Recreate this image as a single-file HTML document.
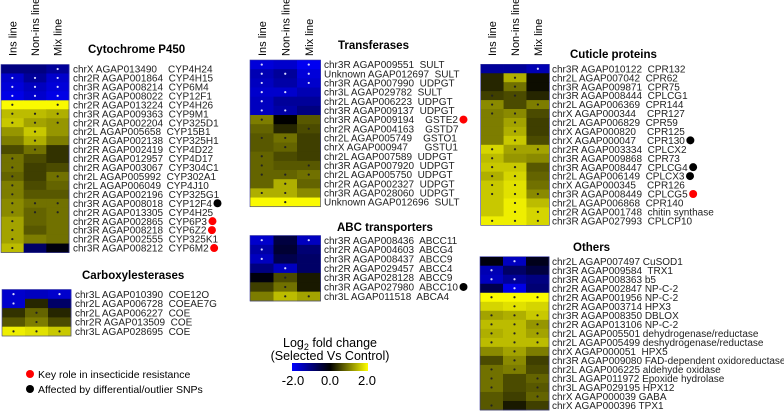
<!DOCTYPE html>
<html><head><meta charset="utf-8"><style>
html,body{margin:0;padding:0;background:#fff;}
svg{display:block;font-family:"Liberation Sans",Arial,sans-serif;}
text{white-space:pre;}
</style></head><body>
<svg id="chart" width="784" height="411" viewBox="0 0 784 411">
<defs><linearGradient id="cbar" x1="0" x2="1"><stop offset="0" stop-color="#0000ff"/><stop offset="0.5" stop-color="#000"/><stop offset="1" stop-color="#ffff00"/></linearGradient></defs>
<g id="legend">
<text x="330" y="347" font-size="12.5" text-anchor="middle">Log<tspan font-size="9" dy="3">2</tspan><tspan dy="-3"> fold change</tspan></text>
<text x="330" y="360" font-size="12.5" text-anchor="middle">(Selected Vs Control)</text>
<rect x="292" y="363" width="76" height="8" fill="url(#cbar)"/>
<text x="293" y="385" font-size="13" text-anchor="middle">-2.0</text>
<text x="330" y="385" font-size="13" text-anchor="middle">0.0</text>
<text x="367" y="385" font-size="13" text-anchor="middle">2.0</text>
<circle cx="30" cy="374" r="4" fill="#f00"/>
<text x="38" y="378" font-size="10.5">Key role in insecticide resistance</text>
<circle cx="30" cy="389" r="4" fill="#000"/>
<text x="38" y="393" font-size="10.5">Affected by differential/outlier SNPs</text>
</g>
</svg>
<script>
const columns = ["Ins line","Non-ins line","Mix line"];
const cypLabels = ["chrX AGAP013490    CYP4H24","chr2R AGAP001864  CYP4H15","chr3R AGAP008214  CYP6M4","chr3R AGAP008022  CYP12F1","chr2R AGAP013224  CYP4H26","chr3R AGAP009363  CYP9M1","chr2R AGAP002204  CYP325D1","chr2L AGAP005658  CYP15B1","chr2R AGAP002138  CYP325H1","chr2R AGAP002419  CYP4D22","chr2R AGAP012957  CYP4D17","chr2R AGAP003067  CYP304C1","chr2L AGAP005992  CYP302A1","chr2L AGAP006049  CYP4J10","chr2R AGAP002196  CYP325G1","chr3R AGAP008018  CYP12F4","chr2R AGAP013305  CYP4H25","chr2R AGAP002865  CYP6P3","chr3R AGAP008218  CYP6Z2","chr2R AGAP002555  CYP325K1","chr3R AGAP008212  CYP6M2"];
const cypValues = [[-1.0,-1.0,-1.2],[-1.6,-1.2,-1.6],[-1.7,-1.5,-1.7],[-1.8,-1.6,-1.8],[2.0,2.0,2.0],[1.5,1.5,1.4],[1.6,1.3,1.2],[1.2,1.6,1.2],[1.0,1.4,1.0],[0.6,0.9,0.4],[0.9,0.6,0.4],[0.9,0.5,0.6],[0.8,0.5,0.9],[1.0,0.6,0.8],[1.0,0.7,0.7],[1.1,0.9,0.9],[1.1,0.8,0.9],[1.3,0.8,0.9],[1.3,0.7,0.9],[1.3,1.0,0.9],[1.5,-0.8,-0.1]];
const cypSig = [[0,0,1],[1,1,1],[1,1,1],[1,1,1],[1,0,1],[1,1,1],[1,1,1],[0,1,0],[0,1,0],[0,1,0],[1,0,0],[1,0,0],[1,0,1],[1,0,0],[1,0,0],[1,1,1],[1,1,1],[1,0,0],[1,0,0],[1,0,0],[1,0,0]];
const cypMarks = ["","","","","","","","","","","","","","","","k","","r","r","","r"];

const coeLabels = ["chr3L AGAP010390  COE12O","chr2L AGAP006728  COEAE7G","chr2L AGAP006227  COE","chr2R AGAP013509  COE","chr3L AGAP028695  COE"];
const coeValues = [[-1.6,-1.5,-1.6],[-1.6,0.3,-0.8],[0.4,0.8,0.3],[0.7,1.0,0.6],[1.9,1.8,1.6]];
const coeSig = [[1,0,1],[1,0,0],[0,1,0],[0,1,0],[1,1,1]];
const coeMarks = ["","","","",""];

const trLabels = ["chr3R AGAP009551  SULT","Unknown AGAP012697  SULT","chr3R AGAP007990  UDPGT","chr3L AGAP029782  SULT","chr2L AGAP006223  UDPGT","chr3R AGAP009137  UDPGT","chr3R AGAP009194    GSTE2","chr2R AGAP004163    GSTD7","chr2L AGAP005749    GSTO1","chrX AGAP000947      GSTU1","chr2L AGAP007589  UDPGT","chr3R AGAP007920  UDPGT","chr2L AGAP005750  UDPGT","chr2R AGAP002327  UDPGT","chr3R AGAP028060  UDPGT","Unknown AGAP012696  SULT"];
const trValues = [[-1.7,-1.6,-1.9],[-1.4,-1.2,-1.7],[-1.5,-1.3,-1.6],[-1.6,-1.6,-1.4],[-1.5,-1.2,-1.2],[-1.5,-1.3,-1.0],[1.0,0.0,0.7],[0.8,0.3,0.6],[0.7,0.9,0.5],[0.7,0.8,0.5],[0.8,0.6,0.5],[0.8,0.7,0.7],[0.8,0.8,0.9],[0.8,1.4,0.8],[1.4,1.4,1.1],[2.0,2.0,2.0]];
const trSig = [[1,0,1],[1,1,1],[1,0,1],[1,1,0],[1,0,0],[1,1,0],[1,0,0],[0,0,1],[1,1,0],[0,1,0],[1,0,0],[1,0,1],[1,1,1],[0,1,0],[1,1,0],[0,1,0]];
const trMarks = ["","","","","","","r","","","","","","","","",""];

const abcLabels = ["chr3R AGAP008436  ABCC11","chr2R AGAP004603  ABCG4","chr3R AGAP008437  ABCC9","chr2R AGAP029457  ABCC4","chr3R AGAP028128  ABCC9","chr3R AGAP027980  ABCC10","chr3L AGAP011518  ABCA4"];
const abcValues = [[-1.6,-0.5,-1.5],[-1.3,-0.4,-0.9],[-1.5,-0.6,-0.8],[-1.0,-1.5,-0.8],[-0.1,0.6,0.2],[0.5,0.9,0.2],[1.0,1.5,1.3]];
const abcSig = [[1,0,1],[1,0,0],[1,0,0],[0,1,0],[0,1,0],[0,1,0],[0,1,1]];
const abcMarks = ["","","","","","k",""];

const cutLabels = ["chr3R AGAP010122  CPR132","chr2L AGAP007042  CPR62","chr3R AGAP009871  CPR75","chr3R AGAP008444  CPLCG1","chr2L AGAP006369  CPR144","chrX AGAP000344    CPR127","chr2L AGAP006829  CPR59","chrX AGAP000820    CPR125","chrX AGAP000047    CPR130","chr2R AGAP003334  CPLCX2","chr3R AGAP009868  CPR73","chr3R AGAP008447  CPLCG4","chr2L AGAP006149  CPLCX3","chrX AGAP000345    CPR126","chr3R AGAP008449  CPLCG5","chr2L AGAP006868  CPR140","chr2R AGAP001748  chitin synthase","chr3R AGAP027993  CPLCP10"];
const cutValues = [[-1.2,-1.2,-1.4],[0.3,1.4,0.1],[0.3,0.9,0.1],[0.5,0.6,0.3],[1.1,0.6,1.0],[1.0,1.1,0.6],[1.0,1.3,0.5],[1.0,1.4,0.5],[1.0,1.6,0.6],[1.7,1.3,1.3],[1.5,1.2,1.1],[1.6,1.6,0.7],[1.4,1.7,0.8],[1.6,1.8,0.9],[1.6,1.8,1.1],[1.6,1.9,1.5],[1.6,1.9,1.7],[1.9,1.9,1.7]];
const cutSig = [[0,0,1],[0,1,0],[0,1,0],[1,1,0],[1,0,1],[1,1,0],[0,1,0],[0,1,0],[0,1,0],[1,1,1],[1,0,0],[1,1,0],[1,1,0],[1,1,0],[1,1,1],[0,1,0],[0,1,1],[1,1,1]];
const cutMarks = ["","","","","","","","","k","","","k","k","","r","","",""];

const othLabels = ["chr2L AGAP007497 CuSOD1","chr3R AGAP009584  TRX1","chr3R AGAP008363 b5","chr2R AGAP002847 NP-C-2","chr2R AGAP001956 NP-C-2","chr2R AGAP003714 HPX3","chr3R AGAP008350 DBLOX","chr2R AGAP013106 NP-C-2","chr2L AGAP005501 dehydrogenase/reductase","chr2L AGAP005499 deshydrogenase/reductase","chrX AGAP000051  HPX5","chr3R AGAP009080 FAD-dependent oxidoreductase","chr2L AGAP006225 aldehyde oxidase","chr3L AGAP011972 Epoxide hydrolase","chr3L AGAP029195 HPX12","chrX AGAP000039 GABA","chrX AGAP000396 TPX1"];
const othValues = [[-0.1,-1.5,-0.2],[-1.4,-0.8,-0.5],[-1.5,-1.2,-1.0],[-0.6,-1.8,-0.9],[2.0,2.0,2.0],[1.7,1.8,1.7],[1.3,1.4,1.6],[1.5,1.5,1.2],[1.4,1.5,1.3],[1.5,1.5,1.5],[1.1,1.3,1.0],[0.6,1.1,0.5],[0.9,1.0,0.6],[0.9,0.6,0.8],[0.9,0.6,0.7],[0.7,0.5,0.8],[0.7,0.2,0.5]];
const othSig = [[0,1,0],[1,0,0],[1,1,0],[0,1,0],[1,1,1],[0,1,0],[1,1,1],[1,1,1],[1,1,1],[1,1,1],[0,1,0],[0,1,0],[1,1,0],[1,0,1],[1,0,1],[0,0,1],[1,0,0]];
const othMarks = ["","","","","","","","","","","","","","","","",""];

const NS = "http://www.w3.org/2000/svg";
const svg = document.getElementById('chart');
function colorOf(v){
  const t = Math.max(-1, Math.min(1, v/2));
  if (t < 0) return `rgb(0,0,${Math.round(-t*255)})`;
  const c = Math.round(t*250);
  return `rgb(${c},${c},0)`;
}
function mk(tag, attrs){ const e=document.createElementNS(NS,tag); for(const k in attrs) e.setAttribute(k,attrs[k]); return e; }

const panels = [
  {name:"cytochrome-p450", title:"Cytochrome P450", tx:88, ty:53, x:1, y:64.5, w:68, h:188, lx:73, labels:cypLabels, vals:cypValues, sig:cypSig, marks:cypMarks, headers:true},
  {name:"carboxylesterases", title:"Carboxylesterases", tx:82, ty:279, x:2, y:289.5, w:69, h:46.5, lx:75, labels:coeLabels, vals:coeValues, sig:coeSig, marks:coeMarks},
  {name:"transferases", title:"Transferases", tx:338, ty:49, x:250, y:60, w:70.5, h:146.7, lx:324, labels:trLabels, vals:trValues, sig:trSig, marks:trMarks, headers:true},
  {name:"abc-transporters", title:"ABC transporters", tx:337, ty:231, x:250, y:235.5, w:70.5, h:65.5, lx:324, labels:abcLabels, vals:abcValues, sig:abcSig, marks:abcMarks},
  {name:"cuticle-proteins", title:"Cuticle proteins", tx:570, ty:58, x:480.7, y:64.3, w:68.6, h:161, lx:552, labels:cutLabels, vals:cutValues, sig:cutSig, marks:cutMarks, headers:true},
  {name:"others", title:"Others", tx:573, ty:251, x:480, y:256.7, w:69, h:153.3, lx:552, labels:othLabels, vals:othValues, sig:othSig, marks:othMarks}
];

panels.forEach(p=>{
  const g = mk('g',{});
  
  
  svg.appendChild(g);
  const t = mk('text',{x:p.tx,y:p.ty,'font-size':'11.5','font-weight':'bold'});
  
  
  t.textContent = p.title; g.appendChild(t);
  const n = p.labels.length, rh = p.h/n, cw = p.w/columns.length;
  if (p.headers) {
    columns.forEach((c,j)=>{
      const cx = p.x + cw*(j+0.5) + 4;
      const ht = mk('text',{x:cx,y:56,'font-size':'11',transform:`rotate(-90 ${cx} 56)`});
      
      
      ht.textContent = c; g.appendChild(ht);
    });
  }
  p.vals.forEach((row,i)=>{
    row.forEach((v,j)=>{
      const r = mk('rect',{x:p.x+cw*j, y:p.y+rh*i, width:cw+0.4, height:rh+0.4, fill:colorOf(v)});
      
      
      g.appendChild(r);
      if (p.sig[i] && p.sig[i][j]) {
        const d = mk('circle',{cx:p.x+cw*(j+0.5), cy:p.y+rh*(i+0.5), r:1.1, fill: v<0 ? '#d8d8ff' : '#222'});
        
        
        g.appendChild(d);
      }
    });
    const lt = mk('text',{x:p.lx, y:p.y+rh*(i+0.5)+3.6, 'font-size':'10', fill:'#222'});
    
    
    lt.textContent = p.labels[i]; g.appendChild(lt);
    if (p.marks[i]) {
      const len = lt.getComputedTextLength();
      const m = mk('circle',{cx:p.lx+len+5.5, cy:p.y+rh*(i+0.5), r:4, fill: p.marks[i]==='r' ? '#f00' : '#000'});
      
      
      g.appendChild(m);
    }
  });
  const border = mk('rect',{x:p.x,y:p.y,width:p.w,height:p.h,fill:'none',stroke:'#3a3aa0','stroke-width':'0.6'});
  
  
  g.appendChild(border);
});
</script>
</body></html>
